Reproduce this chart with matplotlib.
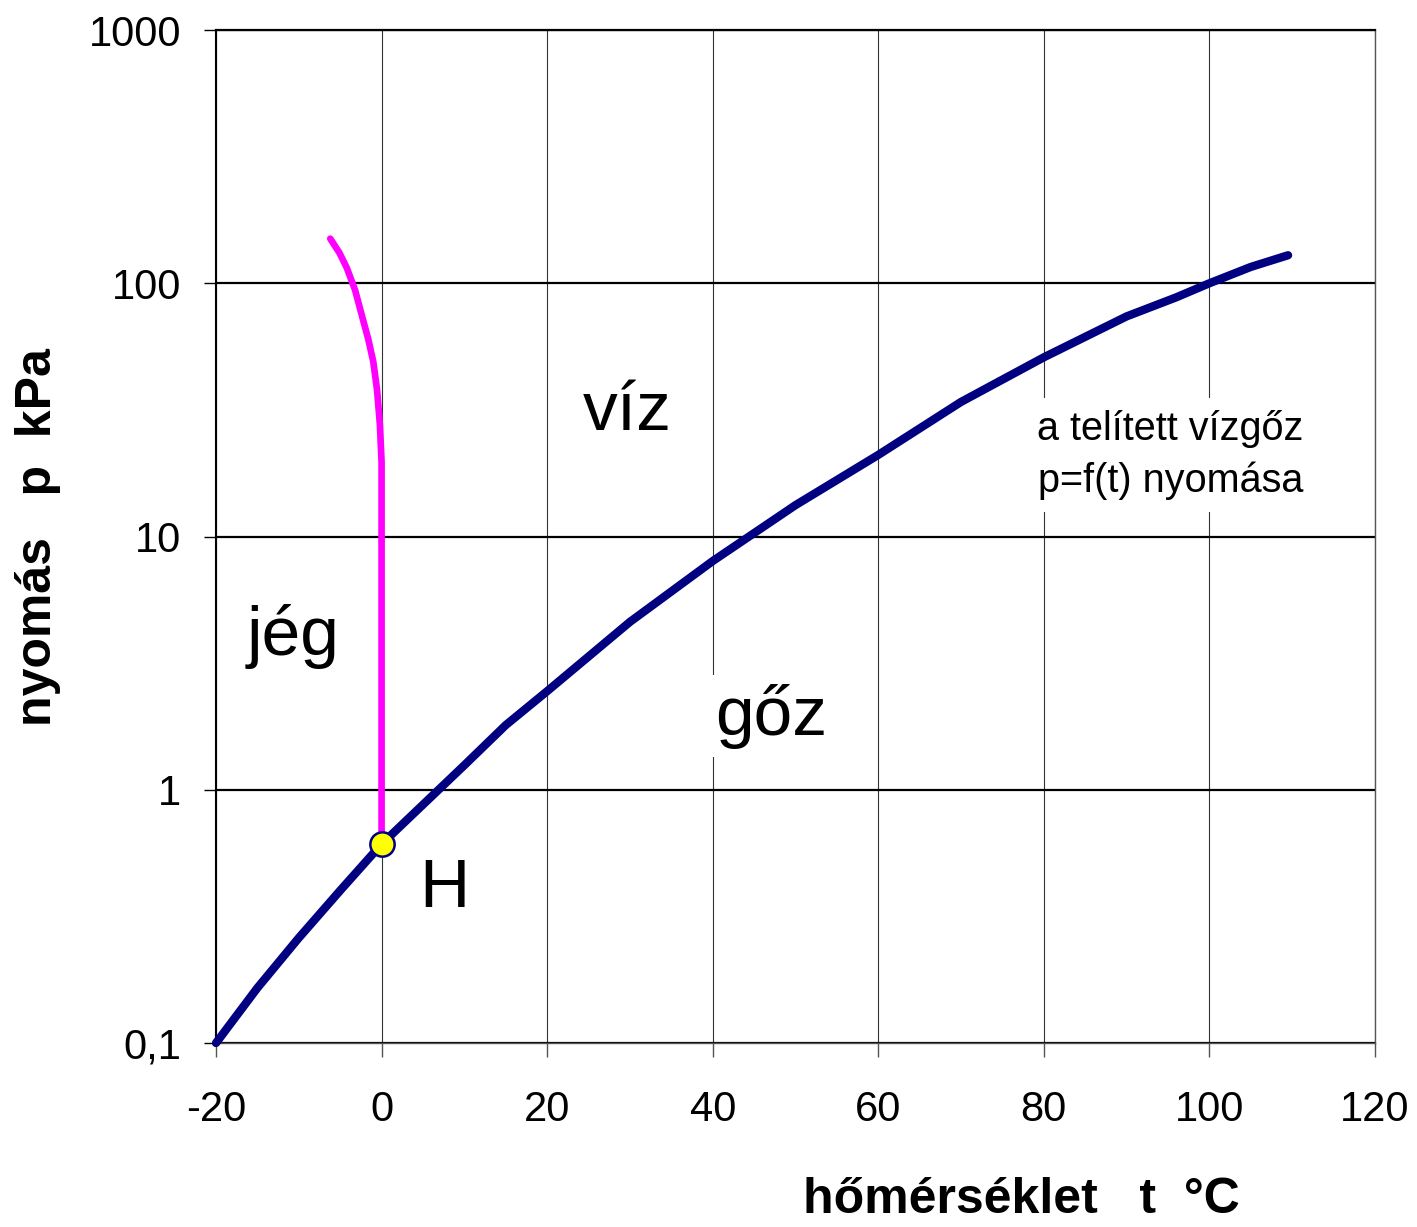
import matplotlib
matplotlib.use("Agg")
import matplotlib.pyplot as plt
from matplotlib.ticker import FixedLocator, FixedFormatter, NullLocator

plt.rcParams["font.family"] = ["Liberation Sans", "DejaVu Sans"]

# saturated vapour pressure curve
t_vapour = [-20, -15, -10, -5, 0, 10, 15, 20, 30, 40, 50, 60, 70, 80, 90, 96, 100, 105, 109.5]
p_vapour = [0.10, 0.165, 0.26, 0.40, 0.61, 1.25, 1.8, 2.45, 4.6, 8.0, 13.3, 21, 34, 51, 74, 88, 100, 116, 129]

# melting curve (ice / water)
t_melt = [-6.2, -5.1, -4.2, -3.2, -2.4, -1.6, -1.0, -0.55, -0.2, 0, 0]
p_melt = [150, 132, 115, 94, 75, 60, 49, 38, 27.6, 19.7, 0.61]

# triple point
t_triple = [0]
p_triple = [0.61]

x_ticks = [-20, 0, 20, 40, 60, 80, 100, 120]
x_tick_labels = ["-20", "0", "20", "40", "60", "80", "100", "120"]
y_ticks = [0.1, 1, 10, 100, 1000]
y_tick_labels = ["0,1", "1", "10", "100", "1000"]

fig = plt.figure(figsize=(14.17, 12.27), dpi=100)
ax = fig.add_axes([216 / 1417, 1 - 1043 / 1227, (1375 - 216) / 1417, (1043 - 30) / 1227])

ax.set_yscale("log")
ax.set_xlim(-20, 120)
ax.set_ylim(0.1, 1000)

ax.xaxis.set_major_locator(FixedLocator(x_ticks))
ax.xaxis.set_major_formatter(FixedFormatter(x_tick_labels))
ax.yaxis.set_major_locator(FixedLocator(y_ticks))
ax.yaxis.set_major_formatter(FixedFormatter(y_tick_labels))
ax.yaxis.set_minor_locator(NullLocator())

ax.tick_params(axis="x", direction="out", length=10, width=1, color="#555555",
               labelsize=30, pad=24)
ax.tick_params(axis="y", direction="out", length=9, width=1, color="black",
               labelsize=30, pad=16)

# grid: thick black horizontals, thin grey verticals
ax.yaxis.grid(True, color="black", linewidth=1.6, zorder=1)
ax.xaxis.grid(True, color="#333333", linewidth=0.8, zorder=1)
ax.set_axisbelow(True)

ax.spines["left"].set_color("black")
ax.spines["left"].set_linewidth(1.5)
ax.spines["top"].set_color("black")
ax.spines["top"].set_linewidth(1.6)
ax.spines["bottom"].set_color("#555555")
ax.spines["bottom"].set_linewidth(1.0)
ax.spines["right"].set_color("#555555")
ax.spines["right"].set_linewidth(1.0)

ax.plot(t_vapour, p_vapour, color="#000080", linewidth=6, solid_capstyle="round",
        solid_joinstyle="round", zorder=4, clip_on=False)
ax.plot(t_melt, p_melt, color="#ff00ff", linewidth=4.8, solid_capstyle="round",
        solid_joinstyle="round", zorder=3, clip_on=False)
ax.plot(t_triple, p_triple, "o", markersize=17.5, markerfacecolor="#ffff00",
        markeredgecolor="#000080", markeredgewidth=1.8, zorder=5)

ax.text(24.3, 26.4, "víz", fontsize=50, ha="left", va="baseline", zorder=3)
ax.text(-16.3, 3.41, "jég", fontsize=50, ha="left", va="baseline", zorder=3)
ax.text(4.6, 0.345, "H", fontsize=50, ha="left", va="baseline", zorder=3)
ax.text(40.3, 1.65, "gőz", fontsize=50, ha="left", va="baseline", zorder=3,
        bbox=dict(boxstyle="square,pad=0.12", fc="white", ec="none"))
ax.text(95.3, 21.0, "a telített vízgőz\np=f(t) nyomása", fontsize=28.5,
        ha="center", va="center", multialignment="center", linespacing=1.45,
        zorder=3, bbox=dict(boxstyle="square,pad=0.3", fc="white", ec="none"))

fig.text(1021 / 1417, 1 - 1200 / 1227, "hőmérséklet   t  °C", fontsize=36,
         fontweight="bold", ha="center", va="center")
fig.text(38 / 1417, 1 - 537 / 1227, "nyomás   p  kPa", fontsize=36,
         fontweight="bold", ha="center", va="center", rotation=90)

fig.savefig("out.png", dpi=100)
